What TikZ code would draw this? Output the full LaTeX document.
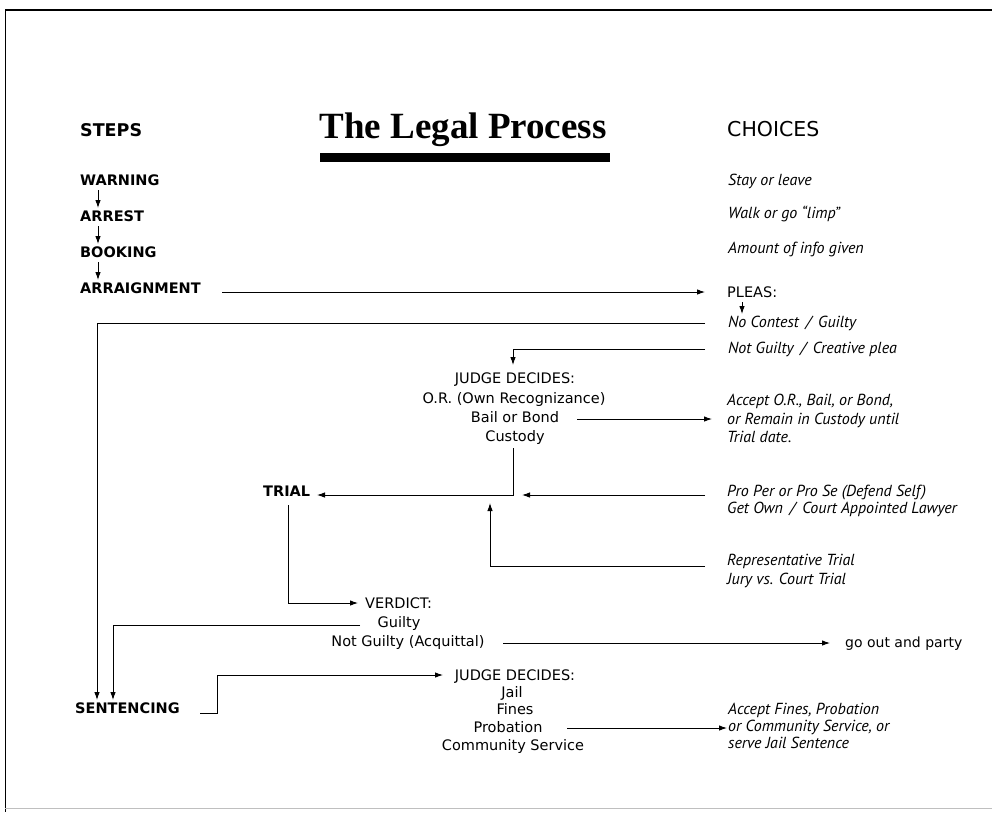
\documentclass[tikz,border=0pt]{standalone}
\usepackage{fontspec}
\setmainfont{DejaVu Sans}
\newfontfamily\itfont[Ligatures=TeX]{PT Sans}
\newfontfamily\titlefont{Liberation Serif}
\usetikzlibrary{arrows.meta,calc}
\tikzset{
  txt/.style={inner sep=0pt, anchor=base west, font=\fontsize{14.5}{16}\selectfont},
  ctxt/.style={txt, anchor=base},
  bld/.style={txt, font=\bfseries\fontsize{14.5}{16}\selectfont},
  itx/.style={txt, font=\itfont\itshape\fontsize{16}{18}\selectfont},
  arr/.style={draw=black, line width=0.9pt, -{Latex[length=8pt,width=5.5pt]}},
}
\begin{document}
\begin{tikzpicture}[x=1pt,y=-1pt]
\useasboundingbox (0,0) rectangle (992,812);
% frame
\draw[line width=1.6pt] (5,10) -- (992,10);
\draw[line width=0.8pt] (5,10) -- (5,812);
\draw[line width=0.5pt, black!25] (5,808) -- (992,808);
% title
\node[inner sep=0pt, anchor=base, font=\titlefont\bfseries\fontsize{37}{40}\selectfont] (title) at (463,138) {The Legal Process};
\fill (320,153) rectangle (610,162);
\node[bld, font=\bfseries\fontsize{17.5}{19}\selectfont] (steps) at (80,136) {STEPS};
\node[txt, font=\fontsize{20.5}{22}\selectfont] (choices) at (727,136) {CHOICES};
% steps
\node[bld] (warning) at (80,185) {WARNING};
\node[bld] (arrest) at (80,221) {ARREST};
\node[bld] (booking) at (80,257) {BOOKING};
\node[bld] (arraign) at (80,293) {ARRAIGNMENT};
% choices column
\node[itx] (stay) at (728,185) {Stay or leave};
\node[itx] (walk) at (728,218) {Walk or go “limp”};
\node[itx] (amount) at (728,253) {Amount of info given};
\node[txt] (pleas) at (727,297) {PLEAS:};
\node[itx] (nocontest) at (728,327) {No Contest \,/\, Guilty};
\node[itx] (notguilty) at (728,353) {Not Guilty \,/\, Creative plea};
% judge decides 1
\node[ctxt] (jd1) at (515,383) {JUDGE DECIDES:};
\node[ctxt] (or) at (514,403) {O.R. (Own Recognizance)};
\node[ctxt] (bail) at (515,422) {Bail or Bond};
\node[ctxt] (custody) at (515,441) {Custody};
\node[itx] (ao1) at (727,405) {Accept O.R., Bail, or Bond,};
\node[itx] (ao2) at (727,424) {or Remain in Custody until};
\node[itx] (ao3) at (727,442) {Trial date.};
% trial
\node[bld] (trial) at (263,496) {TRIAL};
\node[itx] (proper) at (727,496) {Pro Per or Pro Se (Defend Self)};
\node[itx] (getown) at (727,513) {Get Own \,/\, Court Appointed Lawyer};
\node[itx] (rep) at (727,565) {Representative Trial};
\node[itx] (jury) at (727,584) {Jury vs. Court Trial};
% verdict
\node[txt] (verdict) at (365,608) {VERDICT:};
\node[ctxt] (guilty) at (399,627) {Guilty};
\node[ctxt] (ngacq) at (408,646) {Not Guilty (Acquittal)};
\node[txt, font=\fontsize{14}{16}\selectfont] (party) at (845,647) {go out and party};
% sentencing
\node[bld] (sent) at (75,713) {SENTENCING};
\node[ctxt] (jd2) at (515,680) {JUDGE DECIDES:};
\node[ctxt] (jail) at (512,697) {Jail};
\node[ctxt] (fines) at (515,714) {Fines};
\node[ctxt] (probation) at (508,732) {Probation};
\node[ctxt] (commserv) at (513,750) {Community Service};
\node[itx] (af1) at (728,714) {Accept Fines, Probation};
\node[itx] (af2) at (728,731) {or Community Service, or};
\node[itx] (af3) at (728,748) {serve Jail Sentence};
% connectors
\draw[arr] ($(warning.base west)+(18,5)$) -- ($(arrest.base west)+(18,-13)$);
\draw[arr] ($(arrest.base west)+(18,5)$) -- ($(booking.base west)+(18,-13)$);
\draw[arr] ($(booking.base west)+(18,5)$) -- ($(arraign.base west)+(18,-13)$);
\draw[arr] ($(arraign.base west)+(142,-1)$) -- ($(pleas.base west)+(-22,-5)$);
\draw[arr] ($(pleas.base west)+(15,5)$) -- ($(nocontest.base west)+(14,-13)$);
\draw[arr] ($(nocontest.base west)+(-23,-4)$) -| ($(sent.base west)+(22,-13)$);
\draw[arr] ($(notguilty.base west)+(-23,-4)$) -| ($(jd1.base)+(-2,-18)$);
\draw[arr] ($(bail.base)+(62,-3)$) -- ($(ao2.base west)+(-15,-5)$);
\draw[arr] ($(custody.base)+(-2,7)$) |- ($(trial.base west)+(54,-1)$);
\draw[arr] ($(proper.base west)+(-22,-1)$) -- ($(custody.base)+(7,54)$);
\draw[arr] ($(rep.base west)+(-22,1)$) -| ($(custody.base)+(-25,62)$);
\draw[arr] ($(trial.base west)+(25,9)$) |- ($(verdict.base west)+(-7,-5)$);
\draw[arr] ($(guilty.base)+(-39,-2)$) -| ($(sent.base west)+(38,-13)$);
\draw[arr] ($(ngacq.base)+(95,-3)$) -- ($(party.base west)+(-15,-4)$);
\draw[arr] ($(sent.base west)+(125,0)$) -- ($(sent.base west)+(142,0)$) |- ($(jd2.base)+(-72,-5)$);
\draw[arr] ($(probation.base)+(59,-4)$) -- ($(af2.base west)+(-1,-3)$);
\end{tikzpicture}
\end{document}
